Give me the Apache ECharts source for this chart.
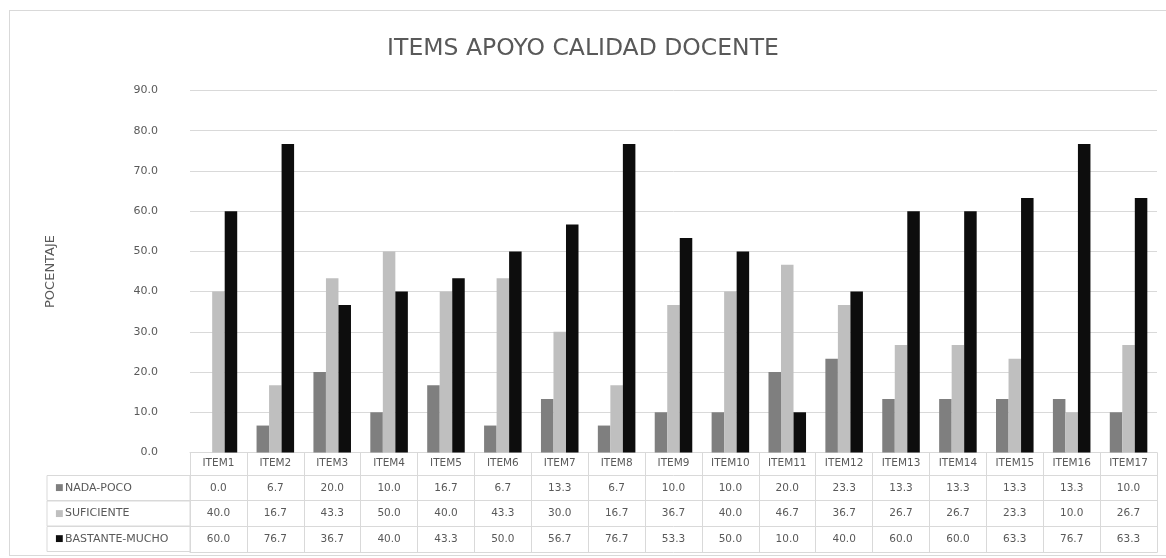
<!DOCTYPE html>
<html>
<head>
<meta charset="utf-8">
<script src="https://cdn.jsdelivr.net/npm/echarts@6/dist/echarts.min.js"></script>
<style>
  html, body { margin: 0; padding: 0; background: #ffffff; }
  #frame { position: absolute; left: 9px; top: 10px; width: 1170px; height: 546px; border: 1px solid #d9d9d9; box-sizing: border-box; }
  #chart { position: absolute; left: 0; top: 0; width: 1166px; height: 558px; }
</style>
</head>
<body>
<div id="frame"></div>
<div id="chart"></div>
<script>
const categories = ['ITEM1','ITEM2','ITEM3','ITEM4','ITEM5','ITEM6','ITEM7','ITEM8','ITEM9','ITEM10','ITEM11','ITEM12','ITEM13','ITEM14','ITEM15','ITEM16','ITEM17'];
const seriesNames = ['NADA-POCO', 'SUFICIENTE', 'BASTANTE-MUCHO'];
const nadaPoco = [0.0, 6.7, 20.0, 10.0, 16.7, 6.7, 13.3, 6.7, 10.0, 10.0, 20.0, 23.3, 13.3, 13.3, 13.3, 13.3, 10.0];
const suficiente = [40.0, 16.7, 43.3, 50.0, 40.0, 43.3, 30.0, 16.7, 36.7, 40.0, 46.7, 36.7, 26.7, 26.7, 23.3, 10.0, 26.7];
const bastanteMucho = [60.0, 76.7, 36.7, 40.0, 43.3, 50.0, 56.7, 76.7, 53.3, 50.0, 10.0, 40.0, 60.0, 60.0, 63.3, 76.7, 63.3];
const yTicks = [0, 10, 20, 30, 40, 50, 60, 70, 80, 90];

const colors = ['#7f7f7f', '#bfbfbf', '#0d0d0d'];
const values = [nadaPoco, suficiente, bastanteMucho];
const FONT = 'DejaVu Sans';
const TXT = '#595959';
const LINE = '#d9d9d9';

const chart = echarts.init(document.getElementById('chart'), null, { renderer: 'canvas' });

const xAxes = [];
// main category axis (ITEM labels + column dividers)
xAxes.push({
  type: 'category', data: categories, position: 'bottom',
  axisLine: { show: true, lineStyle: { color: LINE, width: 1 } },
  axisTick: { show: true, interval: 0, length: 100, lineStyle: { color: LINE } },
  axisLabel: { interval: 0, color: TXT, fontFamily: FONT, fontSize: 10.5, margin: 5 }
});
// horizontal row lines of the data table
[23, 48, 74, 100].forEach(off => {
  xAxes.push({
    type: 'category', data: categories, position: 'bottom', offset: off,
    axisLine: { show: true, lineStyle: { color: LINE, width: 1 } },
    axisTick: { show: false }, axisLabel: { show: false }, splitLine: { show: false }
  });
});
// table rows with values and legend keys
[35.5, 61, 86.5].forEach((off, i) => {
  xAxes.push({
    type: 'category', data: categories, position: 'bottom', offset: off,
    axisLine: { show: false }, axisTick: { show: false }, splitLine: { show: false },
    axisLabel: {
      interval: 0, margin: 0, verticalAlign: 'middle', color: TXT, fontFamily: FONT, fontSize: 10.5,
      formatter: (v, idx) => values[i][idx].toFixed(1)
    },
    name: '{sq|■}{t|' + seriesNames[i] + '}',
    nameLocation: 'start', nameGap: 143,
    nameTextStyle: {
      align: 'left', verticalAlign: 'middle',
      borderColor: LINE, borderWidth: 1, padding: [0, 0, 0, 8],
      rich: {
        sq: { color: colors[i], fontSize: 9, fontFamily: FONT, lineHeight: 25, width: 10, align: 'left' },
        t: { color: TXT, fontSize: 11, fontFamily: FONT, lineHeight: 25, width: 125, align: 'left' }
      }
    }
  });
});

const series = seriesNames.map((n, i) => ({
  name: n, type: 'bar', xAxisIndex: 0, yAxisIndex: 0,
  data: values[i],
  barGap: '0%', barCategoryGap: '34%',
  itemStyle: { color: colors[i] },
  emphasis: { disabled: true }
}));

chart.setOption({
  animation: false,
  backgroundColor: 'transparent',
  title: {
    text: 'ITEMS APOYO CALIDAD DOCENTE', left: 'center', top: 32,
    textStyle: { color: TXT, fontFamily: FONT, fontSize: 23.5, fontWeight: 'normal' }
  },
  grid: { left: 190, right: 9, top: 90.5, bottom: 105.5, containLabel: false },
  xAxis: xAxes,
  yAxis: {
    type: 'value', min: yTicks[0], max: yTicks[yTicks.length - 1], interval: 10,
    axisLine: { show: false }, axisTick: { show: false },
    splitLine: { lineStyle: { color: LINE, width: 1 } },
    axisLabel: { color: TXT, fontFamily: FONT, fontSize: 11, margin: 32, formatter: v => v.toFixed(1) },
    name: 'POCENTAJE', nameLocation: 'middle', nameGap: 133, nameRotate: 90,
    nameTextStyle: { color: TXT, fontFamily: FONT, fontSize: 13 }
  },
  series: series
});
</script>
</body>
</html>
